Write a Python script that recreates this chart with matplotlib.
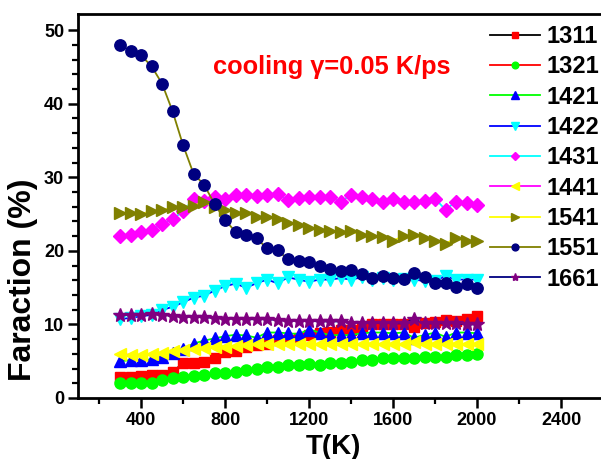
import numpy as np
import matplotlib
matplotlib.use("Agg")
import matplotlib.pyplot as plt
from matplotlib.transforms import IdentityTransform

plt.rcParams['font.family'] = ['Liberation Sans', 'DejaVu Sans']
plt.rcParams['font.weight'] = 'bold'

# temperature, 300 K .. 2000 K in 50 K steps
T = list(range(300, 2001, 50))

labels = ["1311", "1321", "1421", "1422", "1431", "1441", "1541", "1551", "1661"]

f1311 = [2.8, 2.8, 3.0, 3.1, 3.1, 3.6, 4.7, 4.7, 4.9, 5.5, 6.2, 6.4, 6.9, 7.2, 7.4, 7.9, 7.9, 8.2,
         8.6, 8.8, 9.0, 9.3, 9.3, 9.7, 10.1, 10.1, 10.1, 10.1, 9.6, 10.2, 10.3, 10.6, 10.5, 10.7, 11.1]
f1321 = [2.1, 2.1, 2.1, 2.1, 2.4, 2.7, 2.8, 3.0, 3.1, 3.35, 3.45, 3.6, 3.8, 4.0, 4.15, 4.25, 4.45, 4.55,
         4.6, 4.45, 4.8, 4.8, 4.9, 5.15, 5.15, 5.4, 5.4, 5.4, 5.5, 5.6, 5.6, 5.6, 5.8, 5.8, 6.0]
f1421 = [5.0, 5.15, 5.15, 5.25, 5.6, 6.1, 6.6, 7.4, 7.8, 8.1, 8.4, 8.6, 8.5, 8.2, 8.9, 8.9, 8.8, 8.7,
         9.3, 8.9, 8.55, 8.55, 8.55, 8.8, 8.9, 8.9, 8.8, 8.9, 8.2, 8.55, 8.9, 8.3, 8.9, 8.9, 8.8]
f1422 = [10.7, 10.9, 11.1, 11.3, 11.95, 12.4, 13.0, 13.65, 13.9, 14.6, 15.2, 15.55, 15.0, 15.6, 16.1, 15.6, 16.4, 16.1,
         15.8, 16.1, 16.1, 16.3, 16.1, 16.4, 16.1, 16.3, 16.1, 16.2, 16.1, 15.9, 15.9, 16.6, 16.1, 16.1, 16.1]
f1431 = [22.0, 22.1, 22.5, 22.8, 23.7, 24.3, 25.4, 27.0, 26.8, 27.3, 27.0, 27.6, 27.6, 27.5, 27.6, 27.7, 26.9, 27.2,
         27.3, 27.35, 27.35, 26.7, 27.6, 27.3, 27.0, 26.7, 27.0, 26.7, 26.7, 26.8, 27.1, 25.6, 26.7, 26.5, 26.2]
f1441 = [6.0, 5.85, 5.85, 6.0, 6.1, 6.4, 6.5, 6.6, 6.75, 7.0, 7.0, 7.05, 7.2, 7.3, 7.35, 7.4, 7.35, 7.4,
         7.3, 7.3, 7.35, 7.35, 7.3, 7.3, 7.35, 7.3, 7.3, 7.3, 7.6, 7.35, 7.35, 7.3, 7.35, 7.35, 7.35]
f1541 = [25.2, 25.2, 25.0, 25.45, 25.5, 25.95, 25.95, 26.15, 26.65, 25.95, 25.55, 25.2, 25.2, 24.65, 24.55, 24.3, 23.75, 23.55,
         23.15, 22.85, 22.7, 22.5, 22.7, 22.1, 22.05, 21.95, 21.4, 22.0, 22.1, 21.7, 21.4, 21.0, 21.7, 21.35, 21.3]
f1551 = [48.0, 47.2, 46.6, 45.1, 42.75, 39.0, 34.4, 30.5, 29.0, 26.4, 24.2, 22.6, 22.15, 21.7, 20.35, 20.1, 18.85, 18.6,
         18.45, 17.95, 17.6, 17.3, 17.35, 16.8, 16.35, 16.55, 16.25, 16.2, 17.0, 16.5, 15.6, 15.6, 15.1, 15.5, 15.0]
f1661 = [11.3, 11.3, 11.3, 11.4, 11.3, 11.15, 11.05, 11.05, 10.95, 10.9, 10.8, 10.8, 10.7, 10.7, 10.7, 10.6, 10.5, 10.5,
         10.5, 10.4, 10.4, 10.4, 10.25, 10.25, 10.25, 10.25, 10.15, 10.15, 10.7, 10.15, 10.15, 10.15, 10.15, 10.0, 10.0]

series = [f1311, f1321, f1421, f1422, f1431, f1441, f1541, f1551, f1661]
line_colors = ["black", "#ff0000", "#00ff00", "#0000ff", "#00ffff", "#ff00ff", "#ffff00", "#808000", "#000080"]
marker_colors = ["#ff0000", "#00ff00", "#0000ff", "#00ffff", "#ff00ff", "#ffff00", "#808000", "#000080", "#800080"]
markers = ["s", "o", "^", "v", "D", "<", ">", "o", "*"]
msizes = [7.5, 8, 8.5, 8.5, 7, 8.5, 8.5, 8.2, 10]

fig = plt.figure(figsize=(6.01, 4.59), dpi=100)
ax = fig.add_axes([78 / 601, 61 / 459, 525 / 601, 384 / 459])

for vals, lab, lc, mc, m, ms in zip(series, labels, line_colors, marker_colors, markers, msizes):
    ax.plot(T, vals, color=lc, lw=1.3, marker=m, ms=ms, mfc=mc, mec=mc, label=lab)

ax.set_xlim(100, 2600)
ax.set_ylim(0, 52.2)
ax.set_xticks([400, 800, 1200, 1600, 2000, 2400])
ax.set_xticks(range(200, 2600, 400), minor=True)
ax.set_yticks([0, 10, 20, 30, 40, 50])
ax.set_yticks(np.arange(0, 52, 2), minor=True)
ax.tick_params(which='major', direction='out', length=7, width=1.8, labelsize=13, pad=3)
ax.tick_params(which='minor', direction='out', length=4.5, width=1.6)
for sp in ax.spines.values():
    sp.set_linewidth(2)

ax.set_xlabel("T(K)", fontsize=20, fontweight='bold')
ax.xaxis.set_label_coords((333 - 78) / 525, -36 / 384, transform=ax.transAxes)
ax.xaxis.label.set_va('top')
ax.set_ylabel("Faraction (%)", fontsize=23, fontweight='bold')
ax.yaxis.set_label_coords(-40 / 525, (459 - 280 - 61) / 384, transform=ax.transAxes)

ax.text(213, 459 - 74, "cooling γ=0.05 K/ps", transform=IdentityTransform(), color="#ff0000",
        fontsize=18.3, fontweight='bold')

leg = ax.legend(loc='upper left', bbox_to_anchor=(490 / 601, 1 - 25 / 459), bbox_transform=fig.transFigure,
                frameon=False, fontsize=17, markerscale=0.6, handlelength=2.1, handletextpad=0.3,
                labelspacing=0.31, borderpad=0, borderaxespad=0)

fig.savefig("out.png", dpi=100)
